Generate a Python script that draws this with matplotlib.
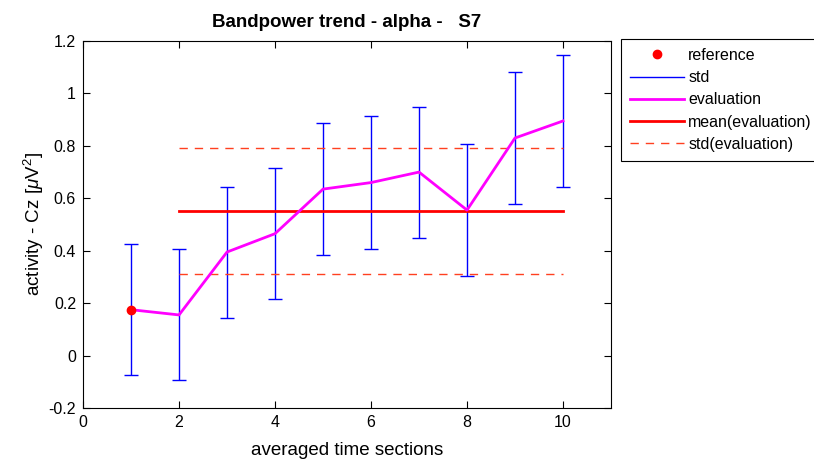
import matplotlib
matplotlib.use("Agg")
import matplotlib.pyplot as plt
from matplotlib.lines import Line2D

plt.rcParams['font.family'] = ['Liberation Sans', 'DejaVu Sans']
plt.rcParams['mathtext.fontset'] = 'custom'
plt.rcParams['mathtext.it'] = 'Liberation Sans:italic'
plt.rcParams['mathtext.rm'] = 'Liberation Sans'

sections = [1, 2, 3, 4, 5, 6, 7, 8, 9, 10]
evaluation = [0.175, 0.155, 0.395, 0.465, 0.635, 0.66, 0.70, 0.555, 0.83, 0.895]
std = [0.25, 0.25, 0.25, 0.25, 0.252, 0.253, 0.25, 0.253, 0.253, 0.25]
reference_x = [1]
reference_y = [0.175]
mean_x = [2, 10]
mean_eval = 0.55
std_upper = 0.79
std_lower = 0.31

fig = plt.figure(figsize=(8.14, 4.61), dpi=100)
ax = fig.add_axes([0.102, 0.115, 0.6486, 0.796])

ax.plot(reference_x, reference_y, 'o', color='red', markersize=6, label='reference', zorder=5)
ax.errorbar(sections, evaluation, yerr=std, fmt='none', ecolor='#0000ff', elinewidth=1.0,
            capsize=5, capthick=1.0, label='std')
ax.plot(sections, evaluation, color='#ff00ff', linewidth=2, label='evaluation', zorder=4)
ax.plot(mean_x, [mean_eval, mean_eval], color='red', linewidth=2, label='mean(evaluation)')
ax.plot(mean_x, [std_upper, std_upper], color='#ff4020', linewidth=1, dashes=(6, 5), label='std(evaluation)')
ax.plot(mean_x, [std_lower, std_lower], color='#ff4020', linewidth=1, dashes=(6, 5))

ax.set_xlim(0, 11)
ax.set_ylim(-0.2, 1.2)
ax.set_xticks([0, 2, 4, 6, 8, 10])
ax.set_yticks([-0.2, 0, 0.2, 0.4, 0.6, 0.8, 1, 1.2])
ax.set_yticklabels(['-0.2', '0', '0.2', '0.4', '0.6', '0.8', '1', '1.2'])
ax.tick_params(direction='in', top=True, right=True, labelsize=11.5, length=5, pad=5)
for s in ax.spines.values():
    s.set_linewidth(0.8)

ax.set_xlabel('averaged time sections', fontsize=13.5, labelpad=9)
ax.set_ylabel(r'activity - Cz [$\mu$V$^2$]', fontsize=13.5, labelpad=2)
ax.set_title('Bandpower trend - alpha -   S7', fontsize=13.5, fontweight='bold', pad=10)

labels = ['reference', 'std', 'evaluation', 'mean(evaluation)', 'std(evaluation)']
handles = [
    Line2D([], [], marker='o', color='red', linestyle='none', markersize=6),
    Line2D([], [], color='#0000ff', linewidth=1),
    Line2D([], [], color='#ff00ff', linewidth=2),
    Line2D([], [], color='red', linewidth=2),
    Line2D([], [], color='#ff4020', linewidth=1, dashes=(6, 5)),
]
leg = fig.legend(handles, labels, loc='upper left', bbox_to_anchor=(0.763, 0.915),
                 fancybox=False, edgecolor='black', framealpha=1, fontsize=11.5,
                 handlelength=3.4, borderpad=0.55, labelspacing=0.45, handletextpad=0.25,
                 borderaxespad=0)
leg.get_frame().set_linewidth(0.8)

fig.savefig('out.png', dpi=100)
